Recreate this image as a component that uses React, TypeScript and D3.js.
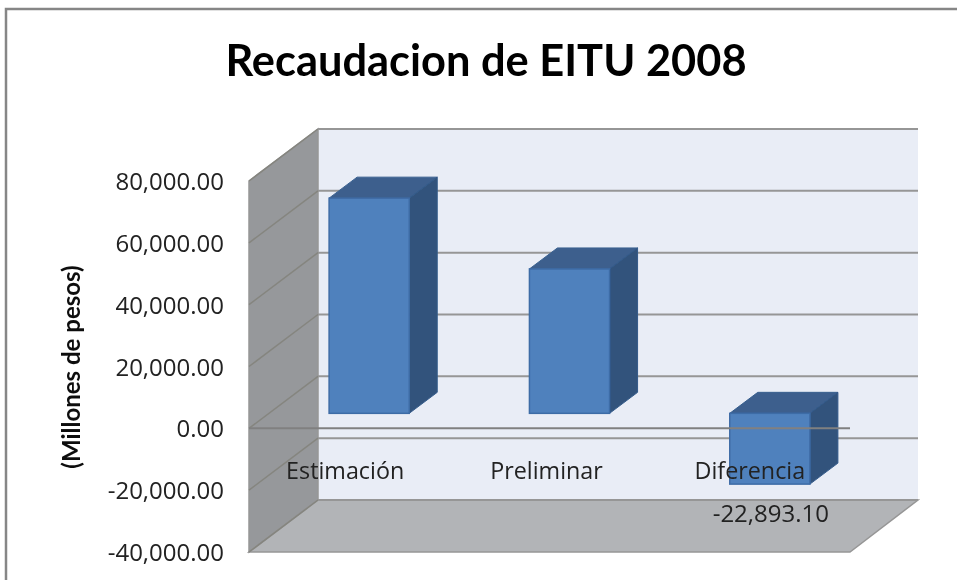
import React from "react";
import * as d3 from "d3";

const categories = ["Estimación", "Preliminar", "Diferencia"];
const values = [69600, 46700, -22893.1];
const yTicks = [80000, 60000, 40000, 20000, 0, -20000, -40000];
const tickLabels = ["80,000.00", "60,000.00", "40,000.00", "20,000.00", "0.00", "-20,000.00", "-40,000.00"];
const categoryLabelOffsets = [-4, -3, 0];
const dataLabels = ["", "", "-22,893.10"];
const title = "Recaudacion de EITU 2008";
const yTitle = "(Millones de pesos)";

const W = 957, H = 580;
const y = d3.scaleLinear().domain([-40000, 80000]).range([552, 181]);
const x = d3.scaleBand<string>().domain(categories).range([249, 850]).paddingInner(0.6).paddingOuter(0.3);
const depthX = 69, depthY = -52;
const barOffX = 20, barOffY = -15, barDX = 28, barDY = -21;
const wallRight = 918;
const poly = (p: number[][]) => p.map((q) => q.join(",")).join(" ");
const lineGrey = "#969696";
const tickFont = "'Open Sans', sans-serif";

export default function App() {
  const x0 = x.range()[0], x1 = x.range()[1];
  const bx = x0 + depthX;
  const yTop = y(80000), yBot = y(-40000), yZero = y(0);
  return (
    <svg width={W} height={H} style={{ position: "absolute", left: 0, top: 0, background: "#fff" }}>
      <defs>
        <filter id="soft" x="-2%" y="-2%" width="104%" height="104%">
          <feGaussianBlur stdDeviation="0.45" />
        </filter>
      </defs>
      <g filter="url(#soft)">
        <rect x={6} y={9} width={W + 20} height={H + 20} fill="#fff" stroke="#868686" strokeWidth={2.5} />
        <text x={486} y={76} textAnchor="middle" fontFamily="Lato, sans-serif" fontWeight={700} fontSize={43.4} fill="#000">{title}</text>
        <text transform="translate(80,367) rotate(-90)" textAnchor="middle" fontFamily="Lato, sans-serif" fontWeight={700} fontSize={24} fill="#111">{yTitle}</text>

        <polygon points={poly([[bx, yTop + depthY], [wallRight, yTop + depthY], [wallRight, yBot + depthY], [bx, yBot + depthY]])} fill="#e9edf6" />
        <polygon points={poly([[x0, yTop], [bx, yTop + depthY], [bx, yBot + depthY], [x0, yBot]])} fill="#96989b" stroke={lineGrey} strokeWidth={1.5} />
        <polygon points={poly([[x0, yBot], [bx, yBot + depthY], [wallRight, yBot + depthY], [x1, yBot]])} fill="#b2b4b7" stroke={lineGrey} strokeWidth={1.5} />

        {yTicks.map((t) => (
          <g key={t}>
            <line x1={x0} y1={y(t)} x2={bx} y2={y(t) + depthY} stroke="#85857f" strokeWidth={1.5} />
            <line x1={bx} y1={y(t) + depthY} x2={wallRight} y2={y(t) + depthY} stroke={lineGrey} strokeWidth={2} />
          </g>
        ))}

        {categories.map((c, i) => {
          const v = values[i];
          const left = x(c)! + barOffX, w = x.bandwidth(), right = left + w;
          const a = Math.min(y(v), yZero) + barOffY;
          const b = Math.max(y(v), yZero) + barOffY;
          return (
            <g key={c}>
              <polygon points={poly([[left, a], [left + barDX, a + barDY], [right + barDX, a + barDY], [right, a]])} fill="#3c5f8d" stroke="#39608f" strokeWidth={1} strokeLinejoin="round" />
              <polygon points={poly([[right, a], [right + barDX, a + barDY], [right + barDX, b + barDY], [right, b]])} fill="#31527b" stroke="#335a8a" strokeWidth={1} strokeLinejoin="round" />
              <rect x={left} y={a} width={w} height={b - a} fill="#4f81bd" stroke="#3e6ca6" strokeWidth={1.5} />
            </g>
          );
        })}

        <line x1={x0} y1={yZero} x2={x1} y2={yZero} stroke="#808080" strokeWidth={2} />

        {yTicks.map((t, i) => (
          <text key={t} x={224} y={y(t) + 9} textAnchor="end" fontFamily={tickFont} fontSize={24} fill="#222">{tickLabels[i]}</text>
        ))}
        {categories.map((c, i) => (
          <text key={c} x={x(c)! + x.bandwidth() / 2 + categoryLabelOffsets[i]} y={479} textAnchor="middle" fontFamily={tickFont} fontSize={23.3} fill="#222">{c}</text>
        ))}
        {categories.map((c, i) => dataLabels[i] ? (
          <text key={c} x={x(c)! + x.bandwidth() / 2 + 21} y={522} textAnchor="middle" fontFamily={tickFont} fontSize={24} fill="#222">{dataLabels[i]}</text>
        ) : null)}
      </g>
    </svg>
  );
}
